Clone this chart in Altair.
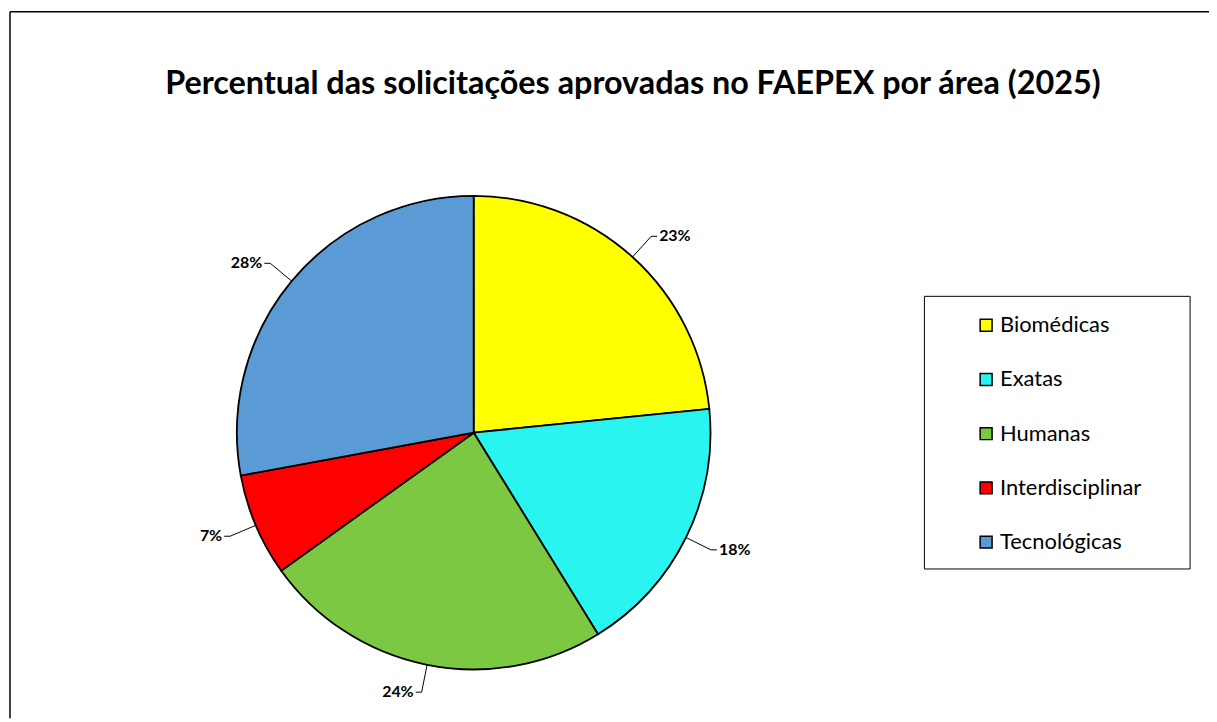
import altair as alt
import pandas as pd

areas = ["Biomédicas", "Exatas", "Humanas", "Interdisciplinar", "Tecnológicas"]
values = [23.4, 17.8, 23.9, 7.0, 27.9]
colors = ["#FFFF00", "#2AF4EF", "#7DC843", "#FF0000", "#5B9BD5"]
title_text = "Percentual das solicitações aprovadas no FAEPEX por área (2025)"

df = pd.DataFrame({"area": areas, "value": values, "ord": list(range(len(areas)))})
one = pd.DataFrame({"k": [0]})

CX, CY, R = 468, 425, 238
RB = R + 28
FONT = "Lato"

color = alt.Color(
    "area:N",
    scale=alt.Scale(domain=areas, range=colors),
    legend=alt.Legend(
        title=None, orient="none", legendX=972, legendY=306,
        symbolType="square", symbolSize=144, symbolStrokeColor="black",
        symbolStrokeWidth=1.5, symbolOpacity=1,
        labelFont=FONT, labelFontSize=22, labelColor="black",
        labelOffset=3, rowPadding=32.5, padding=0,
    ),
)

base = alt.Chart(df)

pie = base.mark_arc(outerRadius=R, stroke="black", strokeWidth=1.8).encode(
    theta=alt.Theta("value:Q", stack=True),
    order=alt.Order("ord:Q"),
    color=color,
    x=alt.value(CX),
    y=alt.value(CY),
)

geo = (
    base.transform_joinaggregate(total="sum(value)")
    .transform_window(cum="sum(value)", sort=[alt.SortField("ord")], frame=[None, 0])
    .transform_calculate(mid="(datum.cum - datum.value/2)/datum.total*2*PI")
    .transform_calculate(side="sin(datum.mid) >= 0 ? 1 : -1")
    .transform_calculate(ex=f"{CX}+{R}*sin(datum.mid)")
    .transform_calculate(ey=f"{CY}-{R}*cos(datum.mid)")
    .transform_calculate(bx=f"{CX}+{RB}*sin(datum.mid)")
    .transform_calculate(by=f"{CY}-{RB}*cos(datum.mid)")
    .transform_calculate(tx="datum.bx + 6*datum.side")
    .transform_calculate(lx="datum.tx + 2*datum.side")
    .transform_calculate(pct="format(datum.value/datum.total, '.0%')")
)

lead1 = geo.mark_rule(color="black", strokeWidth=1).encode(
    x=alt.X("ex:Q", scale=None, axis=None),
    y=alt.Y("ey:Q", scale=None, axis=None),
    x2="bx:Q",
    y2="by:Q",
)
lead2 = geo.mark_rule(color="black", strokeWidth=1).encode(
    x=alt.X("bx:Q", scale=None, axis=None),
    y=alt.Y("by:Q", scale=None, axis=None),
    x2="tx:Q",
    y2="by:Q",
)
lab_r = geo.transform_filter("datum.side > 0").mark_text(
    font=FONT, fontSize=16, fontWeight="bold", color="black", align="left", baseline="middle"
).encode(
    x=alt.X("lx:Q", scale=None, axis=None),
    y=alt.Y("by:Q", scale=None, axis=None),
    text="pct:N",
)
lab_l = geo.transform_filter("datum.side < 0").mark_text(
    font=FONT, fontSize=16, fontWeight="bold", color="black", align="right", baseline="middle"
).encode(
    x=alt.X("lx:Q", scale=None, axis=None),
    y=alt.Y("by:Q", scale=None, axis=None),
    text="pct:N",
)

legend_box = alt.Chart(one).mark_rect(fill="white", stroke="black", strokeWidth=1).encode(
    x=alt.value(921), x2=alt.value(1188), y=alt.value(288), y2=alt.value(562)
)

title = alt.Chart(one).mark_text(
    text=title_text, font=FONT, fontSize=32.5, fontWeight="bold", color="black",
    align="center", baseline="alphabetic",
).encode(x=alt.value(628), y=alt.value(85))

frame_left = alt.Chart(one).mark_rule(color="black", strokeWidth=1.5).encode(
    x=alt.value(2), y=alt.value(2), y2=alt.value(712)
)
frame_top = alt.Chart(one).mark_rule(color="black", strokeWidth=1.5).encode(
    x=alt.value(2), x2=alt.value(1207), y=alt.value(2)
)

chart = (
    alt.layer(frame_left, frame_top, legend_box, title, pie, lead1, lead2, lab_r, lab_l)
    .properties(width=1207, height=712, autosize=alt.AutoSizeParams(type="none"), padding=0,
                background="white")
    .configure_view(stroke=None)
)

chart.save("out.html", embed_options={"renderer": "svg", "actions": False})
